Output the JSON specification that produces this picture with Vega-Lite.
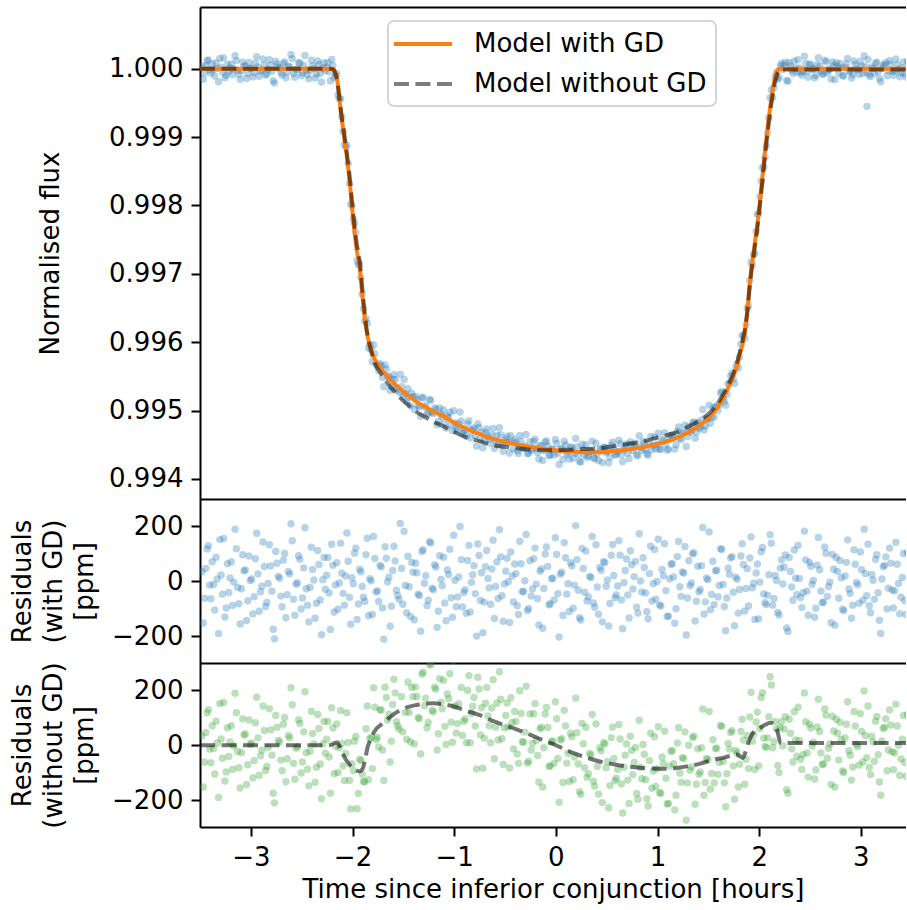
{
"$schema":"https://vega.github.io/schema/vega-lite/v6.json",
"background":"white",
"padding":{"left":9,"top":7,"right":0,"bottom":4},
"spacing":0,
"bounds":"flush",
"config":{
"font":"DejaVu Sans",
"view":{"stroke":null},
"axis":{"grid":false,"domainColor":"black","domainWidth":2,"tickColor":"black","tickWidth":2,"tickSize":9,"labelFontSize":26,"labelColor":"black","labelPadding":8,"labelFont":"DejaVu Sans","titleFont":"DejaVu Sans","titleFontSize":26,"titleFontWeight":"normal","titleColor":"black"},
"legend":{"labelFont":"DejaVu Sans","labelFontSize":26,"labelColor":"black","labelLimit":500,"strokeColor":"#d5d5d5","fillColor":"white","cornerRadius":6,"padding":9,"strokeWidth":2}
},
"datasets":{
"obs":[
{"t":-3.48,"f":1.000035,"a":35,"b":35},{"t":-3.455,"f":0.999938,"a":-62,"b":-62},{"t":-3.43,"f":1.000118,"a":118,"b":118},{"t":-3.405,"f":0.999986,"a":-14,"b":-14},{"t":-3.38,"f":1.000071,"a":71,"b":71},{"t":-3.355,"f":0.999895,"a":-105,"b":-105},{"t":-3.33,"f":1.000008,"a":8,"b":8},{"t":-3.305,"f":1.000152,"a":152,"b":152},{"t":-3.28,"f":0.999953,"a":-47,"b":-47},{"t":-3.255,"f":0.99987,"a":-130,"b":-130},
{"t":-3.23,"f":1.000064,"a":64,"b":64},{"t":-3.205,"f":1.000012,"a":12,"b":12},{"t":-3.18,"f":0.999912,"a":-88,"b":-88},{"t":-3.155,"f":1.00019,"a":190,"b":190},{"t":-3.13,"f":0.999977,"a":-23,"b":-23},{"t":-3.105,"f":0.999844,"a":-156,"b":-156},{"t":-3.08,"f":1.000097,"a":97,"b":97},{"t":-3.055,"f":1.000041,"a":41,"b":41},{"t":-3.03,"f":0.999929,"a":-71,"b":-71},{"t":-3.005,"f":1.000003,"a":3,"b":3},
{"t":-2.98,"f":0.999881,"a":-119,"b":-119},{"t":-2.955,"f":1.000082,"a":82,"b":82},{"t":-2.93,"f":1.000027,"a":27,"b":27},{"t":-2.905,"f":0.999962,"a":-38,"b":-38},{"t":-2.88,"f":1.000143,"a":143,"b":143},{"t":-2.855,"f":0.999908,"a":-92,"b":-92},{"t":-2.83,"f":0.999992,"a":-8,"b":-8},{"t":-2.805,"f":1.000056,"a":56,"b":56},{"t":-2.78,"f":0.999825,"a":-175,"b":-175},{"t":-2.755,"f":1.000109,"a":109,"b":109},
{"t":-2.73,"f":1.000018,"a":18,"b":18},{"t":-2.705,"f":0.999946,"a":-54,"b":-54},{"t":-2.68,"f":1.000077,"a":77,"b":77},{"t":-2.655,"f":0.999867,"a":-133,"b":-133},{"t":-2.63,"f":1.000036,"a":36,"b":36},{"t":-2.605,"f":1.00021,"a":210,"b":210},{"t":-2.58,"f":0.999934,"a":-66,"b":-66},{"t":-2.555,"f":0.999989,"a":-11,"b":-11},{"t":-2.53,"f":1.000093,"a":93,"b":93},{"t":-2.505,"f":0.999899,"a":-101,"b":-101},
{"t":-2.48,"f":1.000049,"a":49,"b":49},{"t":-2.455,"f":0.999973,"a":-27,"b":-27},{"t":-2.43,"f":0.999852,"a":-148,"b":-148},{"t":-2.405,"f":1.000124,"a":124,"b":124},{"t":-2.38,"f":1.000005,"a":5,"b":5},{"t":-2.355,"f":0.99992,"a":-80,"b":-80},{"t":-2.33,"f":1.000061,"a":61,"b":61},{"t":-2.305,"f":0.999805,"a":-195,"b":-195},{"t":-2.28,"f":1.000087,"a":87,"b":87},{"t":-2.255,"f":1.000022,"a":22,"b":22},
{"t":-2.23,"f":0.999957,"a":-43,"b":-43},{"t":-2.205,"f":1.000135,"a":135,"b":137},{"t":-2.18,"f":0.999868,"a":-112,"b":-104},{"t":-2.155,"f":0.999928,"a":68,"b":78},{"t":-2.13,"f":0.999564,"a":-6,"b":-9},{"t":-2.105,"f":0.999299,"a":29,"b":7},{"t":-2.08,"f":0.998893,"a":-87,"b":-128},{"t":-2.055,"f":0.998876,"a":176,"b":119},{"t":-2.03,"f":0.998322,"a":-58,"b":-128},{"t":-2.005,"f":0.997993,"a":13,"b":-67},
{"t":-1.98,"f":0.997742,"a":102,"b":15},{"t":-1.955,"f":0.997191,"a":-139,"b":-231},{"t":-1.93,"f":0.997144,"a":44,"b":-51},{"t":-1.905,"f":0.996701,"a":-19,"b":-106},{"t":-1.88,"f":0.996307,"a":-73,"b":-133},{"t":-1.855,"f":0.996277,"a":157,"b":143},{"t":-1.83,"f":0.995969,"a":9,"b":24},{"t":-1.805,"f":0.995719,"a":-121,"b":-85},{"t":-1.78,"f":0.995833,"a":83,"b":139},{"t":-1.755,"f":0.995655,"a":-35,"b":29},
{"t":-1.73,"f":0.995688,"a":58,"b":130},{"t":-1.705,"f":0.995483,"a":-97,"b":-17},{"t":-1.68,"f":0.995666,"a":126,"b":212},{"t":-1.655,"f":0.995498,"a":-2,"b":92},{"t":-1.63,"f":0.995296,"a":-164,"b":-61},{"t":-1.605,"f":0.995459,"a":39,"b":149},{"t":-1.58,"f":0.995454,"a":74,"b":191},{"t":-1.555,"f":0.995298,"a":-52,"b":70},{"t":-1.53,"f":0.995531,"a":211,"b":339},{"t":-1.505,"f":0.995206,"a":-84,"b":49},
{"t":-1.48,"f":0.995245,"a":-15,"b":120},{"t":-1.455,"f":0.995321,"a":91,"b":230},{"t":-1.43,"f":0.995072,"a":-128,"b":13},{"t":-1.405,"f":0.995203,"a":33,"b":177},{"t":-1.38,"f":0.995206,"a":66,"b":213},{"t":-1.355,"f":0.995073,"a":-47,"b":101},{"t":-1.33,"f":0.994918,"a":-182,"b":-32},{"t":-1.305,"f":0.995185,"a":115,"b":266},{"t":-1.28,"f":0.99507,"a":20,"b":172},{"t":-1.255,"f":0.994961,"a":-69,"b":83},
{"t":-1.23,"f":0.99515,"a":140,"b":293},{"t":-1.205,"f":0.994959,"a":-31,"b":122},{"t":-1.18,"f":0.995022,"a":52,"b":204},{"t":-1.155,"f":0.994841,"a":-109,"b":42},{"t":-1.13,"f":0.994947,"a":7,"b":157},{"t":-1.105,"f":0.995008,"a":88,"b":237},{"t":-1.08,"f":0.994746,"a":-144,"b":3},{"t":-1.055,"f":0.994895,"a":25,"b":170},{"t":-1.03,"f":0.99479,"a":-60,"b":84},{"t":-1.005,"f":0.994998,"a":168,"b":309},
{"t":-0.98,"f":0.994717,"a":-93,"b":45},{"t":-0.955,"f":0.994806,"a":16,"b":151},{"t":-0.93,"f":0.994849,"a":79,"b":211},{"t":-0.905,"f":0.994709,"a":-41,"b":88},{"t":-0.88,"f":0.994623,"a":-117,"b":9},{"t":-0.855,"f":0.994851,"a":131,"b":254},{"t":-0.83,"f":0.994706,"a":-4,"b":116},{"t":-0.805,"f":0.994747,"a":57,"b":174},{"t":-0.78,"f":0.99448,"a":-200,"b":-86},{"t":-0.755,"f":0.994754,"a":94,"b":205},
{"t":-0.73,"f":0.994681,"a":31,"b":137},{"t":-0.705,"f":0.994564,"a":-76,"b":26},{"t":-0.68,"f":0.994732,"a":112,"b":211},{"t":-0.655,"f":0.994586,"a":-24,"b":71},{"t":-0.63,"f":0.994645,"a":45,"b":136},{"t":-0.605,"f":0.994444,"a":-136,"b":-49},{"t":-0.58,"f":0.99464,"a":70,"b":153},{"t":-0.555,"f":0.994748,"a":188,"b":268},{"t":-0.53,"f":0.994497,"a":-53,"b":24},{"t":-0.505,"f":0.99454,"a":-10,"b":64},
{"t":-0.48,"f":0.994624,"a":84,"b":154},{"t":-0.455,"f":0.99438,"a":-150,"b":-83},{"t":-0.43,"f":0.994539,"a":19,"b":83},{"t":-0.405,"f":0.994573,"a":63,"b":123},{"t":-0.38,"f":0.994411,"a":-89,"b":-32},{"t":-0.355,"f":0.994636,"a":146,"b":199},{"t":-0.33,"f":0.994453,"a":-37,"b":13},{"t":-0.305,"f":0.994482,"a":2,"b":48},{"t":-0.28,"f":0.994373,"a":-107,"b":-65},{"t":-0.255,"f":0.994545,"a":75,"b":114},
{"t":-0.23,"f":0.994442,"a":-28,"b":7},{"t":-0.205,"f":0.994581,"a":121,"b":152},{"t":-0.18,"f":0.994386,"a":-64,"b":-37},{"t":-0.155,"f":0.994487,"a":37,"b":60},{"t":-0.13,"f":0.994269,"a":-171,"b":-152},{"t":-0.105,"f":0.994539,"a":99,"b":114},{"t":-0.08,"f":0.994484,"a":54,"b":65},{"t":-0.055,"f":0.994348,"a":-82,"b":-75},{"t":-0.03,"f":0.994431,"a":11,"b":15},{"t":-0.005,"f":0.994579,"a":159,"b":159},
{"t":0.02,"f":0.994375,"a":-45,"b":-48},{"t":0.045,"f":0.994436,"a":26,"b":19},{"t":0.07,"f":0.994285,"a":-125,"b":-136},{"t":0.095,"f":0.994496,"a":86,"b":70},{"t":0.12,"f":0.994391,"a":-9,"b":-29},{"t":0.145,"f":0.994468,"a":68,"b":44},{"t":0.17,"f":0.994302,"a":-98,"b":-126},{"t":0.195,"f":0.994593,"a":203,"b":172},{"t":0.22,"f":0.994357,"a":-33,"b":-68},{"t":0.245,"f":0.994249,"a":-141,"b":-179},
{"t":0.27,"f":0.994437,"a":47,"b":6},{"t":0.295,"f":0.9945,"a":110,"b":66},{"t":0.32,"f":0.994333,"a":-57,"b":-104},{"t":0.345,"f":0.994404,"a":14,"b":-36},{"t":0.37,"f":0.994311,"a":-79,"b":-131},{"t":0.395,"f":0.994523,"a":133,"b":78},{"t":0.42,"f":0.99427,"a":-120,"b":-178},{"t":0.445,"f":0.99443,"a":40,"b":-20},{"t":0.47,"f":0.994462,"a":72,"b":10},{"t":0.495,"f":0.994382,"a":-18,"b":-82},
{"t":0.52,"f":0.994237,"a":-163,"b":-228},{"t":0.545,"f":0.994495,"a":95,"b":28},{"t":0.57,"f":0.994431,"a":21,"b":-48},{"t":0.595,"f":0.99436,"a":-50,"b":-120},{"t":0.62,"f":0.994568,"a":148,"b":76},{"t":0.645,"f":0.994352,"a":-68,"b":-141},{"t":0.67,"f":0.994425,"a":-5,"b":-80},{"t":0.695,"f":0.994511,"a":81,"b":5},{"t":0.72,"f":0.994296,"a":-134,"b":-212},{"t":0.745,"f":0.9945,"a":60,"b":-19},
{"t":0.77,"f":0.994467,"a":17,"b":-63},{"t":0.795,"f":0.994355,"a":-95,"b":-176},{"t":0.82,"f":0.994633,"a":173,"b":91},{"t":0.845,"f":0.994421,"a":-39,"b":-122},{"t":0.87,"f":0.99452,"a":50,"b":-33},{"t":0.895,"f":0.994369,"a":-111,"b":-195},{"t":0.92,"f":0.994518,"a":28,"b":-56},{"t":0.945,"f":0.994428,"a":-72,"b":-157},{"t":0.97,"f":0.994616,"a":116,"b":31},{"t":0.995,"f":0.994509,"a":-1,"b":-86},
{"t":1.02,"f":0.994434,"a":-86,"b":-172},{"t":1.045,"f":0.994573,"a":43,"b":-43},{"t":1.07,"f":0.994677,"a":137,"b":51},{"t":1.095,"f":0.994422,"a":-128,"b":-214},{"t":1.12,"f":0.994579,"a":9,"b":-76},{"t":1.145,"f":0.994645,"a":65,"b":-19},{"t":1.17,"f":0.994437,"a":-153,"b":-236},{"t":1.195,"f":0.9947,"a":90,"b":8},{"t":1.22,"f":0.9946,"a":-20,"b":-101},{"t":1.245,"f":0.994674,"a":34,"b":-45},
{"t":1.27,"f":0.994787,"a":127,"b":49},{"t":1.295,"f":0.994619,"a":-61,"b":-137},{"t":1.32,"f":0.994684,"a":-16,"b":-90},{"t":1.345,"f":0.99482,"a":100,"b":28},{"t":1.37,"f":0.994595,"a":-145,"b":-215},{"t":1.395,"f":0.994825,"a":55,"b":-13},{"t":1.42,"f":0.99476,"a":-30,"b":-97},{"t":1.445,"f":0.995016,"a":196,"b":132},{"t":1.47,"f":0.994775,"a":-75,"b":-136},{"t":1.495,"f":0.994886,"a":6,"b":-52},
{"t":1.52,"f":0.994816,"a":-104,"b":-160},{"t":1.545,"f":0.995043,"a":73,"b":20},{"t":1.57,"f":0.995048,"a":38,"b":-13},{"t":1.595,"f":0.995003,"a":-57,"b":-106},{"t":1.62,"f":0.995259,"a":119,"b":72},{"t":1.645,"f":0.995178,"a":-12,"b":-58},{"t":1.67,"f":0.99508,"a":-180,"b":-224},{"t":1.695,"f":0.995388,"a":48,"b":7},{"t":1.72,"f":0.995505,"a":85,"b":47},{"t":1.745,"f":0.99546,"a":-40,"b":-75},
{"t":1.77,"f":0.995635,"a":15,"b":-19},{"t":1.795,"f":0.995624,"a":-116,"b":-152},{"t":1.82,"f":0.995972,"a":92,"b":50},{"t":1.845,"f":0.996101,"a":61,"b":19},{"t":1.87,"f":0.996254,"a":-26,"b":-51},{"t":1.895,"f":0.99653,"a":-90,"b":-85},{"t":1.92,"f":0.997172,"a":162,"b":193},{"t":1.945,"f":0.997283,"a":-7,"b":40},{"t":1.97,"f":0.99762,"a":30,"b":85},{"t":1.995,"f":0.997883,"a":-137,"b":-75},
{"t":2.02,"f":0.998358,"a":108,"b":174},{"t":2.045,"f":0.998564,"a":-46,"b":26},{"t":2.07,"f":0.998875,"a":-85,"b":-8},{"t":2.095,"f":0.999284,"a":24,"b":104},{"t":2.12,"f":0.999689,"a":139,"b":220},{"t":2.145,"f":0.999717,"a":-63,"b":13},{"t":2.17,"f":0.999943,"a":3,"b":60},{"t":2.195,"f":0.999867,"a":-123,"b":-99},{"t":2.22,"f":1.000078,"a":78,"b":86},{"t":2.245,"f":1.000051,"a":51,"b":59},
{"t":2.27,"f":0.99983,"a":-170,"b":-162},{"t":2.295,"f":1.000087,"a":87,"b":95},{"t":2.32,"f":0.999979,"a":-21,"b":-13},{"t":2.345,"f":1.000114,"a":114,"b":122},{"t":2.37,"f":0.999952,"a":-48,"b":-40},{"t":2.395,"f":1.00001,"a":10,"b":18},{"t":2.42,"f":0.999904,"a":-96,"b":-88},{"t":2.445,"f":1.000183,"a":183,"b":191},{"t":2.47,"f":0.999964,"a":-36,"b":-28},{"t":2.495,"f":1.000069,"a":69,"b":77},
{"t":2.52,"f":0.999989,"a":-11,"b":-3},{"t":2.545,"f":0.999869,"a":-131,"b":-123},{"t":2.57,"f":1.000059,"a":59,"b":67},{"t":2.595,"f":1.000042,"a":42,"b":50},{"t":2.62,"f":0.999922,"a":-78,"b":-70},{"t":2.645,"f":1.000124,"a":124,"b":132},{"t":2.67,"f":0.999945,"a":-55,"b":-47},{"t":2.695,"f":0.999997,"a":-3,"b":5},{"t":2.72,"f":1.000098,"a":98,"b":106},{"t":2.745,"f":0.99984,"a":-160,"b":-152},
{"t":2.77,"f":1.000036,"a":36,"b":44},{"t":2.795,"f":1.000076,"a":76,"b":84},{"t":2.82,"f":0.999898,"a":-102,"b":-94},{"t":2.845,"f":1.000019,"a":19,"b":27},{"t":2.87,"f":1.000151,"a":151,"b":159},{"t":2.895,"f":0.999956,"a":-44,"b":-36},{"t":2.92,"f":0.999913,"a":-87,"b":-79},{"t":2.945,"f":1.000062,"a":62,"b":70},{"t":2.97,"f":0.999987,"a":-13,"b":-5},{"t":2.995,"f":1.000107,"a":107,"b":115},
{"t":3.02,"f":0.999931,"a":-69,"b":-61},{"t":3.045,"f":1.000028,"a":28,"b":36},{"t":3.06,"f":0.99945,"a":-550,"b":-542},{"t":3.07,"f":1.000135,"a":135,"b":143},{"t":3.095,"f":0.999885,"a":-115,"b":-107},{"t":3.12,"f":1.000004,"a":4,"b":12},{"t":3.145,"f":1.00008,"a":80,"b":88},{"t":3.17,"f":0.999958,"a":-42,"b":-34},{"t":3.195,"f":0.99981,"a":-190,"b":-182},{"t":3.22,"f":1.000053,"a":53,"b":61},{"t":3.245,"f":1.000089,"a":89,"b":97},
{"t":3.27,"f":0.999975,"a":-25,"b":-17},{"t":3.295,"f":1.000066,"a":66,"b":74},{"t":3.32,"f":0.999903,"a":-97,"b":-89},{"t":3.345,"f":1.000142,"a":142,"b":150},{"t":3.37,"f":0.999992,"a":-8,"b":0},{"t":3.395,"f":0.999942,"a":-58,"b":-50},{"t":3.42,"f":1.000101,"a":101,"b":109},{"t":3.445,"f":0.999879,"a":-121,"b":-113},
{"t":-3.4675,"f":0.999848,"a":-152,"b":-152},{"t":-3.4425,"f":1.000047,"a":47,"b":47},{"t":-3.4175,"f":1.00013,"a":130,"b":130},{"t":-3.3925,"f":0.999936,"a":-64,"b":-64},{"t":-3.3675,"f":0.999988,"a":-12,"b":-12},{"t":-3.3425,"f":1.000088,"a":88,"b":88},{"t":-3.3175,"f":0.99981,"a":-190,"b":-190},{"t":-3.2925,"f":1.000023,"a":23,"b":23},{"t":-3.2675,"f":1.000156,"a":156,"b":156},{"t":-3.2425,"f":0.999903,"a":-97,"b":-97},
{"t":-3.2175,"f":0.999959,"a":-41,"b":-41},{"t":-3.1925,"f":1.000071,"a":71,"b":71},{"t":-3.1675,"f":0.999997,"a":-3,"b":-3},{"t":-3.1425,"f":1.000119,"a":119,"b":119},{"t":-3.1175,"f":0.999918,"a":-82,"b":-82},{"t":-3.0925,"f":0.999973,"a":-27,"b":-27},{"t":-3.0675,"f":1.000038,"a":38,"b":38},{"t":-3.0425,"f":0.999857,"a":-143,"b":-143},{"t":-3.0175,"f":1.000092,"a":92,"b":92},{"t":-2.9925,"f":1.000008,"a":8,"b":8},
{"t":-2.9675,"f":0.999944,"a":-56,"b":-56},{"t":-2.9425,"f":1.000175,"a":175,"b":175},{"t":-2.9175,"f":0.999891,"a":-109,"b":-109},{"t":-2.8925,"f":0.999982,"a":-18,"b":-18},{"t":-2.8675,"f":1.000054,"a":54,"b":54},{"t":-2.8425,"f":0.999923,"a":-77,"b":-77},{"t":-2.8175,"f":1.000133,"a":133,"b":133},{"t":-2.7925,"f":0.999964,"a":-36,"b":-36},{"t":-2.7675,"f":0.99979,"a":-210,"b":-210},{"t":-2.7425,"f":1.000066,"a":66,"b":66},
{"t":-2.7175,"f":1.000011,"a":11,"b":11},{"t":-2.6925,"f":0.999907,"a":-93,"b":-93},{"t":-2.6675,"f":1.000101,"a":101,"b":101},{"t":-2.6425,"f":0.999951,"a":-49,"b":-49},{"t":-2.6175,"f":1.000027,"a":27,"b":27},{"t":-2.5925,"f":1.000148,"a":148,"b":148},{"t":-2.5675,"f":0.999876,"a":-124,"b":-124},{"t":-2.5425,"f":0.999995,"a":-5,"b":-5},{"t":-2.5175,"f":1.00008,"a":80,"b":80},{"t":-2.4925,"f":0.999939,"a":-61,"b":-61},
{"t":-2.4675,"f":1.000195,"a":195,"b":195},{"t":-2.4425,"f":0.999913,"a":-87,"b":-87},{"t":-2.4175,"f":0.999978,"a":-22,"b":-22},{"t":-2.3925,"f":1.000043,"a":43,"b":43},{"t":-2.3675,"f":0.999865,"a":-135,"b":-135},{"t":-2.3425,"f":1.000112,"a":112,"b":112},{"t":-2.3175,"f":0.999932,"a":-68,"b":-68},{"t":-2.2925,"f":1.000006,"a":6,"b":6},{"t":-2.2675,"f":0.999971,"a":-29,"b":-29},{"t":-2.2425,"f":1.000087,"a":87,"b":87},
{"t":-2.2175,"f":0.999824,"a":-176,"b":-175},{"t":-2.1925,"f":1.000048,"a":58,"b":63},{"t":-2.1675,"f":0.999907,"a":-13,"b":-4},{"t":-2.1425,"f":0.999613,"a":-102,"b":-99},{"t":-2.1175,"f":0.999559,"a":139,"b":127},{"t":-2.0925,"f":0.999081,"a":-44,"b":-75},{"t":-2.0675,"f":0.998859,"a":19,"b":-30},{"t":-2.0425,"f":0.998613,"a":73,"b":10},{"t":-2.0175,"f":0.998023,"a":-157,"b":-232},{"t":-1.9925,"f":0.997801,"a":-9,"b":-92},
{"t":-1.9675,"f":0.997606,"a":121,"b":32},{"t":-1.9425,"f":0.997132,"a":-83,"b":-176},{"t":-1.9175,"f":0.996945,"a":35,"b":-56},{"t":-1.8925,"f":0.996492,"a":-58,"b":-132},{"t":-1.8675,"f":0.996347,"a":97,"b":60},{"t":-1.8425,"f":0.995914,"a":-126,"b":-126},{"t":-1.8175,"f":0.995902,"a":2,"b":28},{"t":-1.7925,"f":0.995959,"a":164,"b":210},{"t":-1.7675,"f":0.995681,"a":-39,"b":21},{"t":-1.7425,"f":0.995586,"a":-74,"b":-6},
{"t":-1.7175,"f":0.995657,"a":52,"b":128},{"t":-1.6925,"f":0.995349,"a":-211,"b":-128},{"t":-1.6675,"f":0.995604,"a":84,"b":174},{"t":-1.6425,"f":0.995495,"a":15,"b":113},{"t":-1.6175,"f":0.995349,"a":-91,"b":15},{"t":-1.5925,"f":0.995528,"a":128,"b":241},{"t":-1.5675,"f":0.995332,"a":-33,"b":86},{"t":-1.5425,"f":0.995269,"a":-66,"b":59},{"t":-1.5175,"f":0.995352,"a":47,"b":177},{"t":-1.4925,"f":0.995457,"a":182,"b":316},
{"t":-1.4675,"f":0.99513,"a":-115,"b":22},{"t":-1.4425,"f":0.995195,"a":-20,"b":120},{"t":-1.4175,"f":0.995254,"a":69,"b":211},{"t":-1.3925,"f":0.995015,"a":-140,"b":5},{"t":-1.3675,"f":0.995161,"a":31,"b":178},{"t":-1.3425,"f":0.995058,"a":-52,"b":97},{"t":-1.3175,"f":0.995194,"a":109,"b":259},{"t":-1.2925,"f":0.995053,"a":-7,"b":144},{"t":-1.2675,"f":0.994952,"a":-88,"b":64},{"t":-1.2425,"f":0.995164,"a":144,"b":296},
{"t":-1.2175,"f":0.994975,"a":-25,"b":128},{"t":-1.1925,"f":0.99504,"a":60,"b":212},{"t":-1.1675,"f":0.994792,"a":-168,"b":-17},{"t":-1.1425,"f":0.995038,"a":93,"b":243},{"t":-1.1175,"f":0.994914,"a":-16,"b":133},{"t":-1.0925,"f":0.994826,"a":-79,"b":69},{"t":-1.0675,"f":0.994921,"a":41,"b":187},{"t":-1.0425,"f":0.994977,"a":117,"b":261},{"t":-1.0175,"f":0.994709,"a":-131,"b":11},{"t":-0.9925,"f":0.994824,"a":4,"b":143},
{"t":-0.9675,"f":0.994743,"a":-57,"b":79},{"t":-0.9425,"f":0.99498,"a":200,"b":333},{"t":-0.9175,"f":0.994666,"a":-94,"b":36},{"t":-0.8925,"f":0.994714,"a":-31,"b":96},{"t":-0.8675,"f":0.994806,"a":76,"b":200},{"t":-0.8425,"f":0.994603,"a":-112,"b":9},{"t":-0.8175,"f":0.994724,"a":24,"b":142},{"t":-0.7925,"f":0.99464,"a":-45,"b":70},{"t":-0.7675,"f":0.994806,"a":136,"b":248},{"t":-0.7425,"f":0.994585,"a":-70,"b":38},
{"t":-0.7175,"f":0.994457,"a":-188,"b":-84},{"t":-0.6925,"f":0.994683,"a":53,"b":153},{"t":-0.6675,"f":0.994625,"a":10,"b":107},{"t":-0.6425,"f":0.994521,"a":-84,"b":9},{"t":-0.6175,"f":0.99474,"a":150,"b":239},{"t":-0.5925,"f":0.994556,"a":-19,"b":66},{"t":-0.5675,"f":0.994502,"a":-63,"b":19},{"t":-0.5425,"f":0.994644,"a":89,"b":168},{"t":-0.5175,"f":0.994404,"a":-146,"b":-70},{"t":-0.4925,"f":0.994582,"a":37,"b":109},
{"t":-0.4675,"f":0.994533,"a":-2,"b":67},{"t":-0.4425,"f":0.994632,"a":107,"b":173},{"t":-0.4175,"f":0.99444,"a":-75,"b":-13},{"t":-0.3925,"f":0.994533,"a":28,"b":87},{"t":-0.3675,"f":0.994374,"a":-121,"b":-66},{"t":-0.3425,"f":0.994554,"a":64,"b":116},{"t":-0.3175,"f":0.994448,"a":-37,"b":11},{"t":-0.2925,"f":0.994651,"a":171,"b":215},{"t":-0.2675,"f":0.994376,"a":-99,"b":-58},{"t":-0.2425,"f":0.994416,"a":-54,"b":-17},
{"t":-0.2175,"f":0.994547,"a":82,"b":115},{"t":-0.1925,"f":0.994444,"a":-11,"b":18},{"t":-0.1675,"f":0.994291,"a":-159,"b":-134},{"t":-0.1425,"f":0.99449,"a":45,"b":66},{"t":-0.1175,"f":0.994414,"a":-26,"b":-9},{"t":-0.0925,"f":0.99456,"a":125,"b":138},{"t":-0.0675,"f":0.994344,"a":-86,"b":-77},{"t":-0.0425,"f":0.994434,"a":9,"b":14},{"t":-0.0175,"f":0.994352,"a":-68,"b":-66},{"t":0.0075,"f":0.994518,"a":98,"b":97},
{"t":0.0325,"f":0.994212,"a":-203,"b":-208},{"t":0.0575,"f":0.994443,"a":33,"b":24},{"t":0.0825,"f":0.994551,"a":141,"b":128},{"t":0.1075,"f":0.994358,"a":-47,"b":-65},{"t":0.1325,"f":0.99429,"a":-110,"b":-132},{"t":0.1575,"f":0.994457,"a":57,"b":31},{"t":0.1825,"f":0.994381,"a":-14,"b":-43},{"t":0.2075,"f":0.994469,"a":79,"b":46},{"t":0.2325,"f":0.994257,"a":-133,"b":-169},{"t":0.2575,"f":0.99451,"a":120,"b":80},
{"t":0.2825,"f":0.99435,"a":-40,"b":-82},{"t":0.3075,"f":0.994318,"a":-72,"b":-117},{"t":0.3325,"f":0.994408,"a":18,"b":-30},{"t":0.3575,"f":0.994553,"a":163,"b":112},{"t":0.3825,"f":0.994295,"a":-95,"b":-149},{"t":0.4075,"f":0.994369,"a":-21,"b":-77},{"t":0.4325,"f":0.99444,"a":50,"b":-9},{"t":0.4575,"f":0.994242,"a":-148,"b":-209},{"t":0.4825,"f":0.994463,"a":68,"b":5},{"t":0.5075,"f":0.994405,"a":5,"b":-59},
{"t":0.5325,"f":0.994319,"a":-81,"b":-147},{"t":0.5575,"f":0.994539,"a":134,"b":66},{"t":0.5825,"f":0.99435,"a":-60,"b":-129},{"t":0.6075,"f":0.994398,"a":-17,"b":-88},{"t":0.6325,"f":0.994515,"a":95,"b":23},{"t":0.6575,"f":0.994252,"a":-173,"b":-247},{"t":0.6825,"f":0.994469,"a":39,"b":-36},{"t":0.7075,"f":0.99438,"a":-50,"b":-127},{"t":0.7325,"f":0.994546,"a":111,"b":33},{"t":0.7575,"f":0.994417,"a":-28,"b":-107},
{"t":0.7825,"f":0.994522,"a":72,"b":-8},{"t":0.8075,"f":0.994339,"a":-116,"b":-197},{"t":0.8325,"f":0.994461,"a":1,"b":-81},{"t":0.8575,"f":0.994551,"a":86,"b":3},{"t":0.8825,"f":0.994432,"a":-43,"b":-126},{"t":0.9075,"f":0.994348,"a":-137,"b":-221},{"t":0.9325,"f":0.994623,"a":128,"b":44},{"t":0.9575,"f":0.994491,"a":-9,"b":-94},{"t":0.9825,"f":0.99444,"a":-65,"b":-150},{"t":1.0075,"f":0.994668,"a":153,"b":68},
{"t":1.0325,"f":0.994435,"a":-90,"b":-176},{"t":1.0575,"f":0.994555,"a":20,"b":-66},{"t":1.0825,"f":0.994511,"a":-34,"b":-120},{"t":1.1075,"f":0.994433,"a":-127,"b":-212},{"t":1.1325,"f":0.994636,"a":61,"b":-23},{"t":1.1575,"f":0.994601,"a":16,"b":-67},{"t":1.1825,"f":0.9945,"a":-100,"b":-182},{"t":1.2075,"f":0.99476,"a":145,"b":64},{"t":1.2325,"f":0.994575,"a":-55,"b":-135},{"t":1.2575,"f":0.99468,"a":30,"b":-48},
{"t":1.2825,"f":0.994474,"a":-196,"b":-273},{"t":1.3075,"f":0.994765,"a":75,"b":0},{"t":1.3325,"f":0.994704,"a":-6,"b":-79},{"t":1.3575,"f":0.994834,"a":104,"b":33},{"t":1.3825,"f":0.994682,"a":-73,"b":-142},{"t":1.4075,"f":0.994742,"a":-38,"b":-106},{"t":1.4325,"f":0.994862,"a":57,"b":-9},{"t":1.4575,"f":0.994716,"a":-119,"b":-182},{"t":1.4825,"f":0.994877,"a":12,"b":-48},{"t":1.5075,"f":0.99508,"a":180,"b":123},
{"t":1.5325,"f":0.994897,"a":-48,"b":-103},{"t":1.5575,"f":0.994905,"a":-85,"b":-137},{"t":1.5825,"f":0.995075,"a":40,"b":-10},{"t":1.6075,"f":0.995085,"a":-15,"b":-63},{"t":1.6325,"f":0.995281,"a":116,"b":69},{"t":1.6575,"f":0.995133,"a":-92,"b":-137},{"t":1.6825,"f":0.995239,"a":-61,"b":-104},{"t":1.7075,"f":0.995406,"a":26,"b":-14},{"t":1.7325,"f":0.99555,"a":90,"b":53},{"t":1.7575,"f":0.995398,"a":-162,"b":-197},
{"t":1.7825,"f":0.995687,"a":7,"b":-28},{"t":1.8075,"f":0.99578,"a":-30,"b":-69},{"t":1.8325,"f":0.996097,"a":137,"b":95},{"t":1.8575,"f":0.996052,"a":-108,"b":-142},{"t":1.8825,"f":0.996496,"a":46,"b":36},{"t":1.9075,"f":0.9969,"a":85,"b":103},{"t":1.9325,"f":0.997126,"a":-24,"b":15},{"t":1.9575,"f":0.997301,"a":-139,"b":-88},{"t":1.9825,"f":0.997868,"a":63,"b":121},{"t":2.0075,"f":0.998132,"a":-3,"b":61},
{"t":2.0325,"f":0.998553,"a":123,"b":192},{"t":2.0575,"f":0.998707,"a":-78,"b":-4},{"t":2.0825,"f":0.999059,"a":-51,"b":27},{"t":2.1075,"f":0.999575,"a":170,"b":250},{"t":2.1325,"f":0.999578,"a":-87,"b":-9},{"t":2.1575,"f":0.999881,"a":21,"b":87},{"t":2.1825,"f":0.999851,"a":-114,"b":-74},{"t":2.2075,"f":1.000043,"a":48,"b":64},{"t":2.2325,"f":0.99999,"a":-10,"b":-2},{"t":2.2575,"f":1.000096,"a":96,"b":104},
{"t":2.2825,"f":0.999817,"a":-183,"b":-175},{"t":2.3075,"f":1.000036,"a":36,"b":44},{"t":2.3325,"f":0.999931,"a":-69,"b":-61},{"t":2.3575,"f":1.000011,"a":11,"b":19},{"t":2.3825,"f":1.000131,"a":131,"b":139},{"t":2.4075,"f":0.999941,"a":-59,"b":-51},{"t":2.4325,"f":0.999958,"a":-42,"b":-34},{"t":2.4575,"f":1.000078,"a":78,"b":86},{"t":2.4825,"f":0.999876,"a":-124,"b":-116},{"t":2.5075,"f":1.000055,"a":55,"b":63},
{"t":2.5325,"f":1.000003,"a":3,"b":11},{"t":2.5575,"f":0.999902,"a":-98,"b":-90},{"t":2.5825,"f":1.00016,"a":160,"b":168},{"t":2.6075,"f":0.999964,"a":-36,"b":-28},{"t":2.6325,"f":0.999924,"a":-76,"b":-68},{"t":2.6575,"f":1.000102,"a":102,"b":110},{"t":2.6825,"f":0.999981,"a":-19,"b":-11},{"t":2.7075,"f":0.999849,"a":-151,"b":-143},{"t":2.7325,"f":1.000044,"a":44,"b":52},{"t":2.7575,"f":1.000087,"a":87,"b":95},
{"t":2.7825,"f":0.999938,"a":-62,"b":-54},{"t":2.8075,"f":1.000013,"a":13,"b":21},{"t":2.8325,"f":0.999893,"a":-107,"b":-99},{"t":2.8575,"f":1.000069,"a":69,"b":77},{"t":2.8825,"f":0.999972,"a":-28,"b":-20},{"t":2.9075,"f":0.999865,"a":-135,"b":-127},{"t":2.9325,"f":1.000115,"a":115,"b":123},{"t":2.9575,"f":0.999996,"a":-4,"b":4},{"t":2.9825,"f":0.99992,"a":-80,"b":-72},{"t":3.0075,"f":1.000042,"a":42,"b":50},
{"t":3.0325,"f":1.00019,"a":190,"b":198},{"t":3.0575,"f":0.999947,"a":-53,"b":-45},{"t":3.0825,"f":0.999911,"a":-89,"b":-81},{"t":3.1075,"f":1.000025,"a":25,"b":33},{"t":3.1325,"f":0.999934,"a":-66,"b":-58},{"t":3.1575,"f":1.000097,"a":97,"b":105},{"t":3.1825,"f":0.999858,"a":-142,"b":-134},{"t":3.2075,"f":1.000008,"a":8,"b":16},{"t":3.2325,"f":1.000058,"a":58,"b":66},{"t":3.2575,"f":0.999899,"a":-101,"b":-93},
{"t":3.2825,"f":1.000121,"a":121,"b":129},{"t":3.3075,"f":0.999968,"a":-32,"b":-24},{"t":3.3325,"f":0.999965,"a":-35,"b":-27},{"t":3.3575,"f":1.000062,"a":62,"b":70},{"t":3.3825,"f":0.999882,"a":-118,"b":-110},{"t":3.4075,"f":1.000014,"a":14,"b":22},{"t":3.4325,"f":0.999929,"a":-71,"b":-63},{"t":3.4575,"f":1.000105,"a":105,"b":113}
],
"model":[
{"t":-3.5,"gd":1.0,"nogd":1.0,"d":0},{"t":-2.25,"gd":1.0,"nogd":1.0,"d":0},{"t":-2.2,"gd":1.0,"nogd":0.999997,"d":3},{"t":-2.18,"gd":0.99998,"nogd":0.99997,"d":8},{"t":-2.15,"gd":0.99983,"nogd":0.99982,"d":10},{"t":-2.12,"gd":0.99944,"nogd":0.99945,"d":-10},{"t":-2.09,"gd":0.99909,"nogd":0.99913,"d":-35},{"t":-2.06,"gd":0.99876,"nogd":0.99882,"d":-55},{"t":-2.03,"gd":0.99838,"nogd":0.99845,"d":-70},{"t":-2.0,"gd":0.9979,"nogd":0.99798,"d":-82},
{"t":-1.96,"gd":0.99737,"nogd":0.99746,"d":-92},{"t":-1.93,"gd":0.9971,"nogd":0.9972,"d":-95},{"t":-1.9,"gd":0.99664,"nogd":0.99673,"d":-85},{"t":-1.87,"gd":0.99625,"nogd":0.99629,"d":-40},{"t":-1.85,"gd":0.99608,"nogd":0.99609,"d":-5},{"t":-1.83,"gd":0.99596,"nogd":0.99595,"d":15},{"t":-1.8,"gd":0.99582,"nogd":0.99578,"d":40},{"t":-1.77,"gd":0.99572,"nogd":0.99566,"d":58},{"t":-1.72,"gd":0.99561,"nogd":0.99554,"d":75},{"t":-1.67,"gd":0.99552,"nogd":0.99543,"d":90},
{"t":-1.6,"gd":0.99541,"nogd":0.9953,"d":112},{"t":-1.54,"gd":0.99533,"nogd":0.9952,"d":126},{"t":-1.45,"gd":0.99522,"nogd":0.99508,"d":140},{"t":-1.37,"gd":0.99513,"nogd":0.99498,"d":147},{"t":-1.29,"gd":0.99506,"nogd":0.99491,"d":152},{"t":-1.21,"gd":0.99499,"nogd":0.99484,"d":153},{"t":-1.12,"gd":0.99493,"nogd":0.99478,"d":150},{"t":-1.03,"gd":0.99485,"nogd":0.99471,"d":144},{"t":-0.9,"gd":0.99475,"nogd":0.99462,"d":128},{"t":-0.77,"gd":0.99467,"nogd":0.99456,"d":113},
{"t":-0.6,"gd":0.99458,"nogd":0.99449,"d":86},{"t":-0.43,"gd":0.99452,"nogd":0.99446,"d":64},{"t":-0.25,"gd":0.99447,"nogd":0.99443,"d":38},{"t":-0.11,"gd":0.99444,"nogd":0.99442,"d":16},{"t":0.0,"gd":0.99442,"nogd":0.99442,"d":0},{"t":0.17,"gd":0.9944,"nogd":0.99443,"d":-28},{"t":0.3,"gd":0.99439,"nogd":0.99444,"d":-45},{"t":0.43,"gd":0.99439,"nogd":0.99445,"d":-59},{"t":0.57,"gd":0.99441,"nogd":0.99448,"d":-69},{"t":0.7,"gd":0.99443,"nogd":0.99451,"d":-77},
{"t":0.83,"gd":0.99446,"nogd":0.99454,"d":-82},{"t":0.96,"gd":0.9945,"nogd":0.99459,"d":-85},{"t":1.09,"gd":0.99455,"nogd":0.99464,"d":-86},{"t":1.2,"gd":0.99461,"nogd":0.99469,"d":-82},{"t":1.3,"gd":0.99468,"nogd":0.99476,"d":-76},{"t":1.42,"gd":0.99479,"nogd":0.99486,"d":-67},{"t":1.5,"gd":0.99489,"nogd":0.99495,"d":-58},{"t":1.58,"gd":0.99503,"nogd":0.99508,"d":-50},{"t":1.65,"gd":0.9952,"nogd":0.99525,"d":-46},{"t":1.7,"gd":0.99535,"nogd":0.99539,"d":-40},
{"t":1.75,"gd":0.99552,"nogd":0.99556,"d":-35},{"t":1.78,"gd":0.99566,"nogd":0.99569,"d":-34},{"t":1.81,"gd":0.99582,"nogd":0.99586,"d":-40},{"t":1.84,"gd":0.996,"nogd":0.99605,"d":-46},{"t":1.86,"gd":0.99616,"nogd":0.99619,"d":-30},{"t":1.88,"gd":0.9964,"nogd":0.99641,"d":-5},{"t":1.91,"gd":0.99689,"nogd":0.99687,"d":25},{"t":1.95,"gd":0.99737,"nogd":0.99732,"d":50},{"t":1.98,"gd":0.9977,"nogd":0.99764,"d":58},{"t":2.01,"gd":0.9981,"nogd":0.99804,"d":64},
{"t":2.06,"gd":0.99883,"nogd":0.99876,"d":75},{"t":2.11,"gd":0.99946,"nogd":0.99938,"d":82},{"t":2.15,"gd":0.99983,"nogd":0.99976,"d":75},{"t":2.18,"gd":0.99998,"nogd":0.99993,"d":50},{"t":2.21,"gd":1.0,"nogd":0.99999,"d":9},{"t":2.25,"gd":1.0,"nogd":0.99999,"d":8},{"t":3.5,"gd":1.0,"nogd":0.99999,"d":8}
]
},
"vconcat":[
{
"width":706,"height":492,
"layer":[
{"data":{"name":"obs"},
"mark":{"type":"circle","size":55,"opacity":0.32,"color":"#1f77b4","clip":true},
"encoding":{
"x":{"field":"t","type":"quantitative","scale":{"domain":[-3.5,3.444],"nice":false,"zero":false},"axis":{"orient":"top","labels":false,"ticks":false,"title":null}},
"y":{"field":"f","type":"quantitative","scale":{"domain":[0.993707,1.000903],"nice":false,"zero":false},"axis":{"values":[0.994,0.995,0.996,0.997,0.998,0.999,1.0],"format":".3f","title":"Normalised flux","titleX":-150,"titleY":246,"titleBaseline":"middle","titleAngle":270}}
}},
{"data":{"name":"model"},
"mark":{"type":"line","strokeWidth":4,"clip":true,"interpolate":"monotone"},
"encoding":{
"x":{"field":"t","type":"quantitative"},
"y":{"field":"gd","type":"quantitative"},
"color":{"datum":"Model with GD","type":"nominal","scale":{"domain":["Model with GD","Model without GD"],"range":["#ff7f0e","rgba(0,0,0,0.5)"]},"legend":{"title":null,"orient":"none","legendX":188,"legendY":14,"symbolType":"M-2.5,0H2.5","symbolSize":540,"symbolOffset":12,"symbolStrokeWidth":4,"labelOffset":37,"rowPadding":13}},
"strokeDash":{"datum":"Model with GD","type":"nominal","scale":{"domain":["Model with GD","Model without GD"],"range":[[1,0],[15,6.5]]},"legend":{"title":null,"orient":"none","legendX":188,"legendY":14,"symbolType":"M-2.5,0H2.5","symbolSize":540,"symbolOffset":12,"symbolStrokeWidth":4,"labelOffset":37,"rowPadding":13}}
}},
{"data":{"name":"model"},
"mark":{"type":"line","strokeWidth":4,"clip":true,"interpolate":"monotone"},
"encoding":{
"x":{"field":"t","type":"quantitative"},
"y":{"field":"nogd","type":"quantitative"},
"color":{"datum":"Model without GD","type":"nominal"},
"strokeDash":{"datum":"Model without GD","type":"nominal"}
}}
]
},
{
"width":706,"height":164,
"data":{"name":"obs"},
"mark":{"type":"circle","size":55,"opacity":0.32,"color":"#1f77b4","clip":true},
"encoding":{
"x":{"field":"t","type":"quantitative","scale":{"domain":[-3.5,3.444],"nice":false,"zero":false},"axis":{"orient":"top","labels":false,"ticks":false,"title":null}},
"y":{"field":"a","type":"quantitative","scale":{"domain":[-298,300],"nice":false,"zero":false},"axis":{"values":[-200,0,200],"title":["Residuals","(with GD)","[ppm]"],"titleX":-178,"titleY":82,"titleBaseline":"middle","titleAngle":270,"titleLineHeight":31}}
}
},
{
"width":706,"height":164,
"resolve":{"axis":{"x":"independent"}},
"layer":[
{"data":{"name":"obs"},
"mark":{"type":"circle","size":55,"opacity":0.32,"color":"#2ca02c","clip":true},
"encoding":{
"x":{"field":"t","type":"quantitative","scale":{"domain":[-3.5,3.444],"nice":false,"zero":false},"axis":{"orient":"bottom","values":[-3,-2,-1,0,1,2,3],"title":"Time since inferior conjunction [hours]","titlePadding":6}},
"y":{"field":"b","type":"quantitative","scale":{"domain":[-298,300],"nice":false,"zero":false},"axis":{"values":[-200,0,200],"title":["Residuals","(without GD)","[ppm]"],"titleX":-178,"titleY":82,"titleBaseline":"middle","titleAngle":270,"titleLineHeight":31}}
}},
{"data":{"name":"model"},
"mark":{"type":"line","strokeWidth":4,"clip":true,"color":"black","opacity":0.55,"strokeDash":[15,6.5],"interpolate":"monotone"},
"encoding":{
"x":{"field":"t","type":"quantitative","axis":{"orient":"top","labels":false,"ticks":false,"title":null}},
"y":{"field":"d","type":"quantitative"}
}}
]
}
]
}
